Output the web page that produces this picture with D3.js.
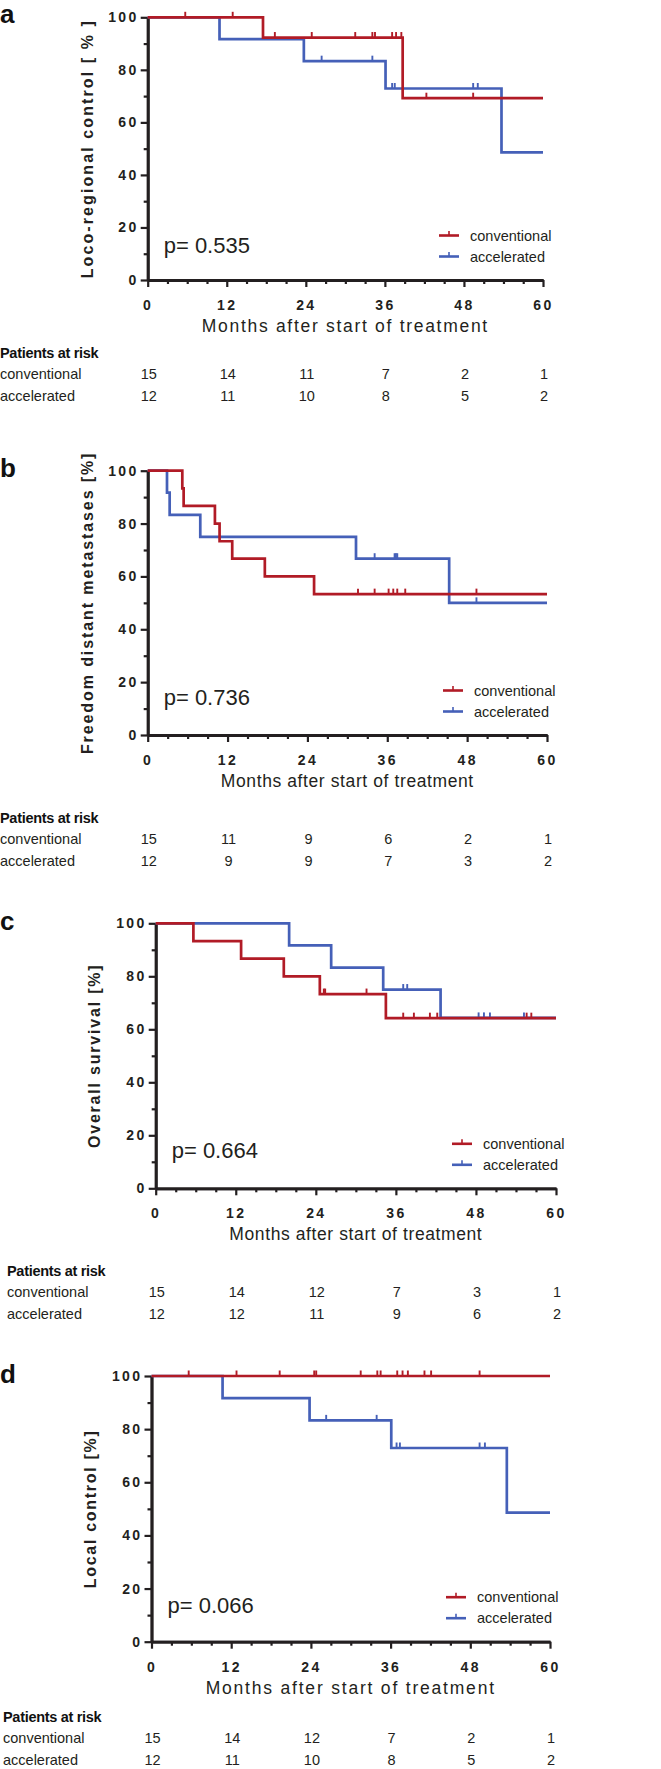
<!DOCTYPE html>
<html>
<head>
<meta charset="utf-8">
<script src="https://cdn.jsdelivr.net/npm/d3@7"></script>
<style>
  body { margin: 0; background: #fff; }
</style>
</head>
<body>
<div id="chart"></div>
<script>
// tick labels and groups
var monthTicks = [0, 12, 24, 36, 48, 60];
var pctTicks = [0, 20, 40, 60, 80, 100];
var groupNames = ["conventional", "accelerated"];

// a: loco-regional control (step times in months, survival in %)
var lrcConvT = [0, 17.5, 38.7];
var lrcConvS = [100, 92.3, 69.2];
var lrcConvCens = [5.7, 12.9, 19.3, 24.9, 31.5, 34.1, 34.5, 37.1, 37.7, 38.5, 42.3, 49.4];
var lrcAccT = [0, 10.9, 23.7, 36.1, 53.7];
var lrcAccS = [100, 91.7, 83.3, 72.9, 48.6];
var lrcAccCens = [26.4, 34.1, 37.1, 37.5, 49.4, 50.1];
var lrcRiskConv = [15, 14, 11, 7, 2, 1];
var lrcRiskAcc = [12, 11, 10, 8, 5, 2];

// b: freedom from distant metastases
var dmConvT = [0, 5.2, 5.4, 10.1, 10.8, 12.7, 17.6, 25.0];
var dmConvS = [100, 93.3, 86.7, 80.0, 73.3, 66.7, 60.0, 53.3];
var dmConvCens = [31.6, 34.1, 36.2, 36.9, 37.5, 38.7, 49.4];
var dmAccT = [0, 2.9, 3.3, 7.9, 31.3, 45.3];
var dmAccS = [100, 91.7, 83.3, 75.0, 66.7, 50.0];
var dmAccCens = [34.1, 37.1, 37.3, 37.5, 49.4];
var dmRiskConv = [15, 11, 9, 6, 2, 1];
var dmRiskAcc = [12, 9, 9, 7, 3, 2];

// c: overall survival
var osConvT = [0, 5.65, 12.8, 19.2, 24.6, 34.5];
var osConvS = [100, 93.3, 86.7, 80.0, 73.3, 64.2];
var osConvCens = [25.2, 25.4, 31.6, 37.1, 38.7, 41.1, 42.2, 55.6, 56.3];
var osAccT = [0, 20.0, 26.3, 34.1, 42.7];
var osAccS = [100, 91.7, 83.3, 75.0, 64.3];
var osAccCens = [37.1, 37.7, 48.4, 49.2, 50.1, 55.2];
var osRiskConv = [15, 14, 12, 7, 3, 1];
var osRiskAcc = [12, 12, 11, 9, 6, 2];

// d: local control
var lcConvT = [0];
var lcConvS = [100];
var lcConvCens = [5.6, 12.8, 19.3, 24.5, 24.8, 31.5, 34.0, 34.5, 37.0, 37.8, 38.6, 41.1, 42.1, 49.4];
var lcAccT = [0, 10.7, 23.8, 36.1, 53.5];
var lcAccS = [100, 91.7, 83.3, 72.9, 48.6];
var lcAccCens = [26.3, 33.9, 36.9, 37.4, 49.4, 50.2];
var lcRiskConv = [15, 14, 12, 7, 2, 1];
var lcRiskAcc = [12, 11, 10, 8, 5, 2];

var W = 661, H = 1769;
var ink = "#231f20", red = "#b11b26", blue = "#4560b8";
var font = "'Liberation Sans', Arial, Helvetica, sans-serif";

// panel layout
var panels = [
  {letter: "a", title: "Loco-regional control [ % ]", p: "p= 0.535",
   curves: [[lrcAccT, lrcAccS, lrcAccCens], [lrcConvT, lrcConvS, lrcConvCens]],
   risk: [lrcRiskConv, lrcRiskAcc],
   x0: 147.7, x1: 543, yTop: 17.3, yBot: 280, labX: 93, letY: 23,
   riskX: 0, riskDy: 72.7, pDy: -35, monLs: 1.7, titLs: 2.1},
  {letter: "b", title: "Freedom distant metastases [%]", p: "p= 0.736",
   curves: [[dmAccT, dmAccS, dmAccCens], [dmConvT, dmConvS, dmConvCens]],
   risk: [dmRiskConv, dmRiskAcc],
   x0: 147.7, x1: 547, yTop: 470.7, yBot: 735, labX: 93, letY: 477,
   riskX: 0, riskDy: 82.7, pDy: -38, monLs: 0.6, titLs: 1.9},
  {letter: "c", title: "Overall survival [%]", p: "p= 0.664",
   curves: [[osAccT, osAccS, osAccCens], [osConvT, osConvS, osConvCens]],
   risk: [osRiskConv, osRiskAcc],
   x0: 155.7, x1: 556, yTop: 923.3, yBot: 1188.3, labX: 100, letY: 930,
   riskX: 7, riskDy: 82.4, pDy: -38, monLs: 0.6, titLs: 1.8},
  {letter: "d", title: "Local control [%]", p: "p= 0.066",
   curves: [[lcAccT, lcAccS, lcAccCens], [lcConvT, lcConvS, lcConvCens]],
   risk: [lcRiskConv, lcRiskAcc],
   x0: 151.5, x1: 550, yTop: 1376, yBot: 1641.7, labX: 96, letY: 1383,
   riskX: 3, riskDy: 75, pDy: -37, monLs: 1.8, titLs: 1.7}
];
var colors = [blue, red]; // accelerated drawn first, conventional on top

var svg = d3.select("#chart").append("svg")
  .attr("width", W).attr("height", H)
  .style("font-family", font);
svg.append("rect").attr("width", W).attr("height", H).attr("fill", "#fff");

function styleAxis(sel) {
  sel.select(".domain").attr("stroke", ink).attr("stroke-width", 2.8);
  sel.selectAll(".tick line").attr("stroke", ink).attr("stroke-width", 2.2);
  sel.selectAll(".tick text")
    .attr("fill", ink)
    .style("font-family", font)
    .style("font-size", "14px")
    .style("font-weight", "bold")
    .style("letter-spacing", "2.4px");
}

panels.forEach(function(P) {
  var g = svg.append("g");
  var x = d3.scaleLinear().domain([0, 60]).range([P.x0, P.x1]);
  var y = d3.scaleLinear().domain([0, 100]).range([P.yBot, P.yTop]);

  // minor ticks every 3 months / 10 %
  g.append("g").attr("transform", "translate(0," + P.yBot + ")")
    .call(d3.axisBottom(x).tickValues(d3.range(3, 60, 3).filter(function(v) { return v % 12; }))
      .tickSize(4).tickSizeOuter(0).tickFormat(""))
    .call(styleAxis);
  g.append("g").attr("transform", "translate(" + P.x0 + ",0)")
    .call(d3.axisLeft(y).tickValues(d3.range(10, 100, 20)).tickSize(4).tickSizeOuter(0).tickFormat(""))
    .call(styleAxis);

  // major axes
  g.append("g").attr("transform", "translate(0," + P.yBot + ")")
    .call(d3.axisBottom(x).tickValues(monthTicks).tickSize(7).tickSizeOuter(0).tickPadding(13))
    .call(styleAxis);
  g.append("g").attr("transform", "translate(" + P.x0 + ",0)")
    .call(d3.axisLeft(y).tickValues(pctTicks).tickSize(7).tickSizeOuter(0).tickPadding(2))
    .call(styleAxis);

  // curves
  var line = d3.line()
    .x(function(d) { return x(d[0]); })
    .y(function(d) { return y(d[1]); })
    .curve(d3.curveStepAfter);

  P.curves.forEach(function(c, i) {
    var T = c[0], S = c[1], C = c[2];
    var pts = T.map(function(t, k) { return [t, S[k]]; });
    pts.push([60, S[S.length - 1]]);
    g.append("path").datum(pts)
      .attr("d", line)
      .attr("fill", "none")
      .attr("stroke", colors[i])
      .attr("stroke-width", 2.7);
    g.selectAll(null).data(C).enter().append("line")
      .attr("x1", function(t) { return x(t); })
      .attr("x2", function(t) { return x(t); })
      .attr("y1", function(t) { return y(S[d3.bisectRight(T, t) - 1]); })
      .attr("y2", function(t) { return y(S[d3.bisectRight(T, t) - 1]) - 5.5; })
      .attr("stroke", colors[i])
      .attr("stroke-width", 1.9);
  });

  // panel letter
  g.append("text").attr("x", 0).attr("y", P.letY)
    .attr("fill", "#111")
    .style("font-size", "26px").style("font-weight", "bold")
    .text(P.letter);

  // y title
  g.append("text")
    .attr("transform", "translate(" + P.labX + "," + ((P.yTop + P.yBot) / 2) + ") rotate(-90)")
    .attr("text-anchor", "middle")
    .attr("fill", ink)
    .style("font-size", "16px").style("font-weight", "bold")
    .style("letter-spacing", P.titLs + "px")
    .text(P.title);

  // x title
  g.append("text")
    .attr("x", (P.x0 + P.x1) / 2).attr("y", P.yBot + 52)
    .attr("text-anchor", "middle")
    .attr("fill", ink)
    .style("font-size", "17.5px")
    .style("letter-spacing", P.monLs + "px")
    .text("Months after start of treatment");

  // p value
  g.append("text")
    .attr("x", P.x0 + 16).attr("y", P.yBot + P.pDy)
    .attr("dy", "0.36em")
    .attr("fill", ink)
    .style("font-size", "22px")
    .text(P.p);

  // legend
  var lg = g.append("g").attr("transform", "translate(" + (P.x1 - 104) + "," + P.yBot + ")");
  [red, blue].forEach(function(col, i) {
    var yy = -44.5 + i * 21;
    lg.append("line").attr("x1", 0).attr("x2", 20).attr("y1", yy).attr("y2", yy)
      .attr("stroke", col).attr("stroke-width", 2.6);
    lg.append("line").attr("x1", 10).attr("x2", 10).attr("y1", yy).attr("y2", yy - 4.5)
      .attr("stroke", col).attr("stroke-width", 1.6);
    lg.append("text").attr("x", 31).attr("y", yy).attr("dy", "0.35em")
      .attr("fill", ink)
      .style("font-size", "14.5px")
      .text(groupNames[i]);
  });

  // patients at risk table
  var rt = g.append("g").attr("transform", "translate(0," + (P.yBot + P.riskDy) + ")");
  rt.append("text").attr("x", P.riskX).attr("y", 0).attr("dy", "0.36em")
    .attr("fill", "#111")
    .style("font-size", "14.5px").style("font-weight", "bold")
    .style("letter-spacing", "-0.3px")
    .text("Patients at risk");
  P.risk.forEach(function(row, i) {
    var yy = 21 + i * 21.8;
    rt.append("text").attr("x", P.riskX).attr("y", yy).attr("dy", "0.36em")
      .attr("fill", ink).style("font-size", "14.5px")
      .text(groupNames[i]);
    rt.selectAll(null).data(row).enter().append("text")
      .attr("x", function(v, k) { return x(monthTicks[k]) + 1; })
      .attr("y", yy).attr("dy", "0.36em")
      .attr("text-anchor", "middle")
      .attr("fill", ink).style("font-size", "14.5px")
      .text(function(v) { return v; });
  });
});
</script>
</body>
</html>
